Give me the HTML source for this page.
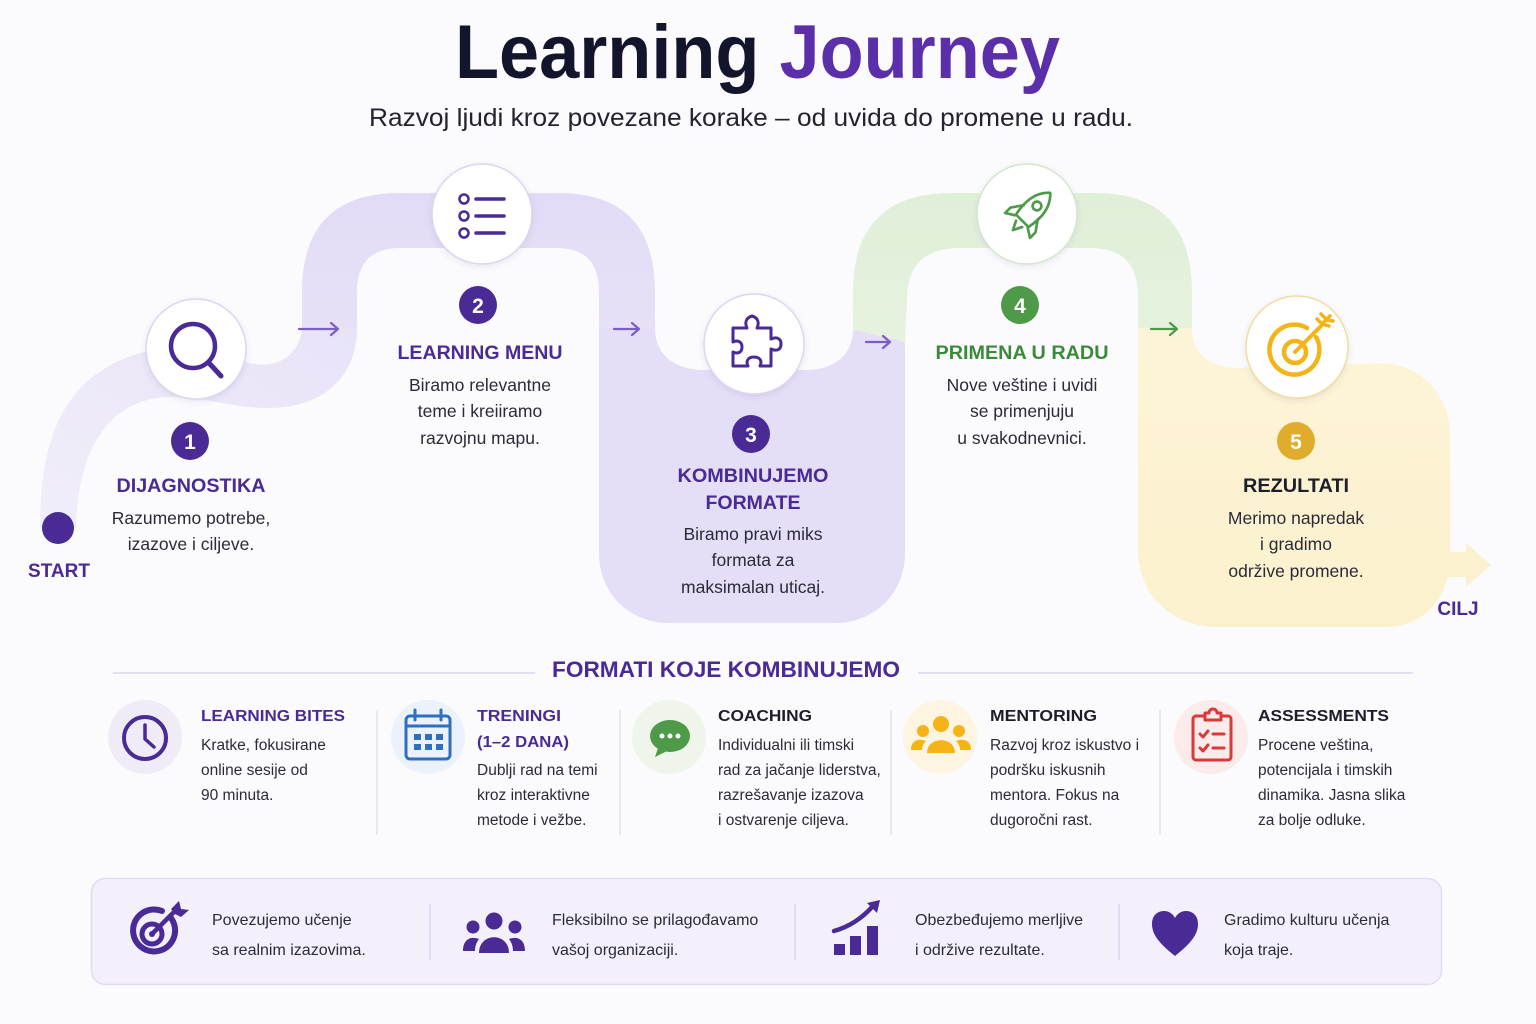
<!DOCTYPE html>
<html><head><meta charset="utf-8">
<style>
html,body{margin:0;padding:0;background:#fbfbfd;}
svg{display:block;}
text{font-family:"Liberation Sans",sans-serif;}
</style></head><body>
<svg width="1536" height="1024" viewBox="0 0 1536 1024" xmlns="http://www.w3.org/2000/svg">
<defs>
<linearGradient id="gS" x1="0" y1="1" x2="1" y2="0">
 <stop offset="0" stop-color="#f1eefa"/><stop offset="1" stop-color="#e8e3f7"/>
</linearGradient>
<linearGradient id="gA" x1="0" y1="0" x2="0" y2="1">
 <stop offset="0" stop-color="#e2dbf6"/><stop offset="1" stop-color="#e7e1f7"/>
</linearGradient>
<linearGradient id="gB" x1="0" y1="0" x2="0" y2="1">
 <stop offset="0" stop-color="#e0efd8"/><stop offset="1" stop-color="#e6f2df"/>
</linearGradient>
<linearGradient id="gY" x1="0" y1="0" x2="0" y2="1">
 <stop offset="0" stop-color="#fdf4d8"/><stop offset="1" stop-color="#fcf1cd"/>
</linearGradient>
<filter id="sh" x="-30%" y="-30%" width="160%" height="160%">
 <feDropShadow dx="0" dy="2" stdDeviation="3" flood-color="#5a4a90" flood-opacity="0.12"/>
</filter>
</defs>
<rect width="1536" height="1024" fill="#fbfbfd"/>

<!-- Title -->
<text x="455" y="78" font-size="76" font-weight="bold" textLength="605" lengthAdjust="spacingAndGlyphs"><tspan fill="#13152c">Learning </tspan><tspan fill="#5b2fa9">Journey</tspan></text>
<text x="369" y="126" font-size="25" fill="#22232f" textLength="764" lengthAdjust="spacingAndGlyphs">Razvoj ljudi kroz povezane korake – od uvida do promene u radu.</text>

<!-- Path bands -->
<path d="M 40,528 C 40,440 62,383 128,357 C 170,341 212,352 246,362 C 280,372 300,352 302,328 L 357,328 C 357,378 322,408 268,408 C 232,408 205,397 172,397 C 112,397 78,445 76,528 Z" fill="url(#gS)"/>
<path d="M 302,328 L 302,292 Q 302,193 400,193 L 558,193 Q 655,193 655,292 L 655,328 L 599,328 L 599,292 Q 599,248 557,248 L 400,248 Q 357,248 357,292 L 357,328 Z" fill="url(#gA)"/>
<path d="M 599,328 L 655,328 C 655,355 675,370 705,370 L 805,370 C 835,370 853,355 853,328 L 905,342 L 905,553 C 905,593 875,623 835,623 L 669,623 C 629,623 599,593 599,553 Z" fill="#e5def7"/>
<path d="M 853,330 L 853,292 Q 853,193 952,193 L 1095,193 Q 1192,193 1192,292 L 1192,328 L 1138,328 L 1138,296 Q 1138,248 1090,248 L 960,248 Q 907,248 907,300 L 905,342 Z" fill="url(#gB)"/>
<path d="M 1138,328 L 1192,328 C 1192,352 1208,368 1240,368 L 1380,363 C 1420,363 1450,395 1450,435 L 1450,557 C 1450,597 1425,627 1385,627 L 1218,627 C 1172,627 1138,595 1138,550 Z" fill="url(#gY)"/>
<path d="M 1440,552 L 1466,552 L 1466,543 L 1491,565 L 1466,587 L 1466,577 L 1440,577 Z" fill="#fcf1cf"/>

<!-- arrows on path -->
<g fill="none" stroke="#7c5dc7" stroke-width="2.2" stroke-linecap="round" stroke-linejoin="round">
 <path d="M 299,329 L 338,329 M 331,323 L 338,329 L 331,335"/>
 <path d="M 614,329 L 639,329 M 632,323 L 639,329 L 632,335"/>
 <path d="M 866,342 L 890,342 M 883,336 L 890,342 L 883,348"/>
</g>
<path d="M 1151,329 L 1177,329 M 1170,323 L 1177,329 L 1170,335" fill="none" stroke="#4d9a48" stroke-width="2.2" stroke-linecap="round" stroke-linejoin="round"/>

<!-- START dot -->
<circle cx="58" cy="528" r="16" fill="#4a2a95"/>
<text x="59" y="577" font-size="19" font-weight="bold" fill="#4a2a95" text-anchor="middle">START</text>
<text x="1458" y="615" font-size="19" font-weight="bold" fill="#4a2a95" text-anchor="middle">CILJ</text>

<!-- Circles -->
<g filter="url(#sh)">
 <circle cx="196" cy="349" r="50" fill="#fff" stroke="#dcd5f0" stroke-width="1.5"/>
 <circle cx="482" cy="214" r="50" fill="#fff" stroke="#dcd5f0" stroke-width="1.5"/>
 <circle cx="754" cy="344" r="50" fill="#fff" stroke="#dcd5f0" stroke-width="1.5"/>
 <circle cx="1027" cy="214" r="50" fill="#fff" stroke="#d3e6cb" stroke-width="1.5"/>
 <circle cx="1297" cy="347" r="51" fill="#fff" stroke="#f2dca0" stroke-width="1.5"/>
</g>

<!-- icon 1 magnifier -->
<g fill="none" stroke="#4a2a95" stroke-linecap="round">
 <circle cx="193" cy="346" r="22" stroke-width="4.5"/>
 <line x1="209" y1="363" x2="221" y2="376" stroke-width="5"/>
</g>
<!-- icon 2 list -->
<g fill="none" stroke="#4a2a95" stroke-linecap="round">
 <circle cx="464" cy="199" r="4.5" stroke-width="2.5"/>
 <circle cx="464" cy="216" r="4.5" stroke-width="2.5"/>
 <circle cx="464" cy="233" r="4.5" stroke-width="2.5"/>
 <line x1="476" y1="199" x2="504" y2="199" stroke-width="3.5"/>
 <line x1="476" y1="216" x2="504" y2="216" stroke-width="3.5"/>
 <line x1="476" y1="233" x2="504" y2="233" stroke-width="3.5"/>
</g>
<!-- icon 3 puzzle -->
<path d="M 733,328 L 747,328 C 745,324 745,318 752,316 C 759,318 759,324 757,328 L 771,328 L 771,339 C 775,337 781,337 781,344 C 781,351 775,351 771,349 L 771,366 L 760,366 C 762,362 761,357 754,357 C 747,357 746,362 748,366 L 733,366 L 733,352 C 737,354 742,353 742,347 C 742,341 737,340 733,342 Z" fill="none" stroke="#4a2a95" stroke-width="3" stroke-linejoin="round"/>
<!-- icon 4 rocket -->
<g transform="translate(1030,213) rotate(45) scale(1.1)" fill="none" stroke="#4d9a48" stroke-width="2.4" stroke-linejoin="round" stroke-linecap="round">
 <path d="M 0,-26 C 10,-17 11,-4 8,10 L -8,10 C -11,-4 -10,-17 0,-26 Z"/>
 <circle cx="0" cy="-9" r="4"/>
 <path d="M -9,-1 L -16,9 L -16,16 L -8,11"/>
 <path d="M 9,-1 L 16,9 L 16,16 L 8,11"/>
 <path d="M -4,14 L 0,22 L 4,14"/>
</g>
<!-- icon 5 target -->
<g fill="none" stroke="#f2b417" stroke-linecap="round" stroke-linejoin="round">
 <path d="M 1316,337 A 25 25 0 1 1 1307,328" stroke-width="4.5"/>
 <circle cx="1295" cy="352" r="11" stroke-width="4.5"/>
 <line x1="1295" y1="352" x2="1323" y2="324" stroke-width="4"/>
 <path d="M 1315,320 L 1321,326 L 1327,332" stroke-width="0"/>
 <path d="M 1317,319 L 1322,324 L 1329,326" stroke-width="3.5"/>
 <path d="M 1321,314 L 1327,320 L 1333,321" stroke-width="3.5"/>
 <line x1="1322" y1="324" x2="1330" y2="316" stroke-width="3.5"/>
</g>

<!-- Number badges -->
<circle cx="190" cy="441" r="19" fill="#4a2a95"/>
<text x="190" y="449" font-size="21" font-weight="bold" fill="#fff" text-anchor="middle">1</text>
<circle cx="478" cy="305" r="19" fill="#4a2a95"/>
<text x="478" y="313" font-size="21" font-weight="bold" fill="#fff" text-anchor="middle">2</text>
<circle cx="751" cy="434" r="19" fill="#4a2a95"/>
<text x="751" y="442" font-size="21" font-weight="bold" fill="#fff" text-anchor="middle">3</text>
<circle cx="1020" cy="305" r="19" fill="#4f9a49"/>
<text x="1020" y="313" font-size="21" font-weight="bold" fill="#fff" text-anchor="middle">4</text>
<circle cx="1296" cy="441" r="19" fill="#e0ac2c"/>
<text x="1296" y="449" font-size="21" font-weight="bold" fill="#fff" text-anchor="middle">5</text>

<!-- Step texts -->
<g text-anchor="middle" font-size="19" font-weight="bold">
 <text x="191" y="492" fill="#4a2a95" textLength="149" lengthAdjust="spacingAndGlyphs">DIJAGNOSTIKA</text>
 <text x="480" y="359" fill="#4a2a95" textLength="165" lengthAdjust="spacingAndGlyphs">LEARNING MENU</text>
 <text x="753" y="482" fill="#4a2a95" textLength="151" lengthAdjust="spacingAndGlyphs">KOMBINUJEMO</text>
 <text x="753" y="509" fill="#4a2a95" textLength="95" lengthAdjust="spacingAndGlyphs">FORMATE</text>
 <text x="1022" y="359" fill="#3b8a3a" textLength="173" lengthAdjust="spacingAndGlyphs">PRIMENA U RADU</text>
 <text x="1296" y="492" fill="#1d1d2b" textLength="106" lengthAdjust="spacingAndGlyphs">REZULTATI</text>
</g>
<g text-anchor="middle" font-size="17.5" fill="#2b2b38">
 <text x="191" y="524">Razumemo potrebe,</text>
 <text x="191" y="550">izazove i ciljeve.</text>
 <text x="480" y="391">Biramo relevantne</text>
 <text x="480" y="417">teme i kreiiramo</text>
 <text x="480" y="444">razvojnu mapu.</text>
 <text x="753" y="540">Biramo pravi miks</text>
 <text x="753" y="566">formata za</text>
 <text x="753" y="593">maksimalan uticaj.</text>
 <text x="1022" y="391">Nove veštine i uvidi</text>
 <text x="1022" y="417">se primenjuju</text>
 <text x="1022" y="444">u svakodnevnici.</text>
 <text x="1296" y="524">Merimo napredak</text>
 <text x="1296" y="550">i gradimo</text>
 <text x="1296" y="577">održive promene.</text>
</g>

<!-- Formats header -->
<line x1="113" y1="673" x2="535" y2="673" stroke="#e2def0" stroke-width="2"/>
<line x1="918" y1="673" x2="1413" y2="673" stroke="#e2def0" stroke-width="2"/>
<text x="552" y="677" font-size="22" font-weight="bold" fill="#4a2a95" textLength="348" lengthAdjust="spacingAndGlyphs">FORMATI KOJE KOMBINUJEMO</text>

<!-- dividers -->
<g stroke="#e4e0f0" stroke-width="1.5">
 <line x1="377" y1="710" x2="377" y2="835"/>
 <line x1="620" y1="710" x2="620" y2="835"/>
 <line x1="891" y1="710" x2="891" y2="835"/>
 <line x1="1160" y1="710" x2="1160" y2="835"/>
</g>

<!-- format icons -->
<circle cx="145" cy="737" r="37" fill="#efecf8"/>
<circle cx="145" cy="738" r="21" fill="none" stroke="#4a2a95" stroke-width="4"/>
<path d="M 145,725 L 145,739 L 154,747" fill="none" stroke="#4a2a95" stroke-width="3.5" stroke-linecap="round" stroke-linejoin="round"/>

<circle cx="428" cy="737" r="37" fill="#ebf2fb"/>
<g fill="none" stroke="#2f6fc0" stroke-width="3" stroke-linecap="round">
 <rect x="406" y="716" width="44" height="43" rx="4"/>
 <line x1="406" y1="726" x2="450" y2="726"/>
 <line x1="415" y1="710" x2="415" y2="720"/>
 <line x1="441" y1="710" x2="441" y2="720"/>
</g>
<g fill="#2f6fc0">
 <rect x="414" y="734" width="7" height="6"/><rect x="425" y="734" width="7" height="6"/><rect x="436" y="734" width="7" height="6"/>
 <rect x="414" y="744" width="7" height="6"/><rect x="425" y="744" width="7" height="6"/><rect x="436" y="744" width="7" height="6"/>
</g>

<circle cx="669" cy="737" r="37" fill="#f0f5ec"/>
<ellipse cx="670" cy="736" rx="20" ry="16" fill="#4d9a48"/>
<path d="M 659,745 L 655,757 L 669,750 Z" fill="#4d9a48"/>
<circle cx="662" cy="736" r="2.5" fill="#fff"/><circle cx="670" cy="736" r="2.5" fill="#fff"/><circle cx="678" cy="736" r="2.5" fill="#fff"/>

<circle cx="940" cy="737" r="37" fill="#fdf5e2"/>
<g fill="#f5b316">
 <circle cx="941" cy="724" r="8"/>
 <path d="M 927,753 C 927,736 955,736 955,753 Z"/>
 <circle cx="923" cy="731" r="6"/>
 <circle cx="959" cy="731" r="6"/>
 <path d="M 911,750 C 911,740 919,738 926,741 C 923,744 922,747 922,750 Z"/>
 <path d="M 971,750 C 971,740 963,738 956,741 C 959,744 960,747 960,750 Z"/>
</g>

<circle cx="1211" cy="737" r="37" fill="#fbebea"/>
<g fill="none" stroke="#d83a3a" stroke-width="3" stroke-linecap="round" stroke-linejoin="round">
 <rect x="1193" y="716" width="38" height="44" rx="3"/>
 <path d="M 1205,720 L 1205,713 L 1209,713 A 4 4 0 0 1 1217,713 L 1221,713 L 1221,720 Z" fill="#fbebea"/>
 <polyline points="1200,734 1203,737 1208,731"/>
 <line x1="1213" y1="734" x2="1224" y2="734"/>
 <polyline points="1200,748 1203,751 1208,745"/>
 <line x1="1213" y1="748" x2="1224" y2="748"/>
</g>

<!-- format titles -->
<g font-size="16" font-weight="bold">
 <text x="201" y="721" fill="#4a2a95" textLength="144" lengthAdjust="spacingAndGlyphs">LEARNING BITES</text>
 <text x="477" y="721" fill="#4a2a95" textLength="84" lengthAdjust="spacingAndGlyphs">TRENINGI</text>
 <text x="477" y="747" fill="#4a2a95" textLength="92" lengthAdjust="spacingAndGlyphs">(1–2 DANA)</text>
 <text x="718" y="721" fill="#1d1d2b" textLength="94" lengthAdjust="spacingAndGlyphs">COACHING</text>
 <text x="990" y="721" fill="#1d1d2b" textLength="107" lengthAdjust="spacingAndGlyphs">MENTORING</text>
 <text x="1258" y="721" fill="#1d1d2b" textLength="131" lengthAdjust="spacingAndGlyphs">ASSESSMENTS</text>
</g>
<g font-size="15.5" fill="#2b2b38">
 <text x="201" y="750">Kratke, fokusirane</text>
 <text x="201" y="775">online sesije od</text>
 <text x="201" y="800">90 minuta.</text>
 <text x="477" y="775">Dublji rad na temi</text>
 <text x="477" y="800">kroz interaktivne</text>
 <text x="477" y="825">metode i vežbe.</text>
 <text x="718" y="750">Individualni ili timski</text>
 <text x="718" y="775">rad za jačanje liderstva,</text>
 <text x="718" y="800">razrešavanje izazova</text>
 <text x="718" y="825">i ostvarenje ciljeva.</text>
 <text x="990" y="750">Razvoj kroz iskustvo i</text>
 <text x="990" y="775">podršku iskusnih</text>
 <text x="990" y="800">mentora. Fokus na</text>
 <text x="990" y="825">dugoročni rast.</text>
 <text x="1258" y="750">Procene veština,</text>
 <text x="1258" y="775">potencijala i timskih</text>
 <text x="1258" y="800">dinamika. Jasna slika</text>
 <text x="1258" y="825">za bolje odluke.</text>
</g>

<!-- Bottom bar -->
<rect x="91.5" y="878.5" width="1350" height="106" rx="14" fill="#f3f0fb" stroke="#e2dcf3" stroke-width="1.5"/>
<g stroke="#dcd6ee" stroke-width="1.5">
 <line x1="430" y1="904" x2="430" y2="960"/>
 <line x1="795" y1="904" x2="795" y2="960"/>
 <line x1="1119" y1="904" x2="1119" y2="960"/>
</g>
<!-- target -->
<g fill="none" stroke="#4a2a95" stroke-linecap="round">
 <path d="M 171,918 A 21 21 0 1 1 162,911" stroke-width="6"/>
 <circle cx="152" cy="934" r="10" stroke-width="5"/>
 <line x1="152" y1="934" x2="176" y2="910" stroke-width="4.5"/>
</g>
<circle cx="152" cy="934" r="3" fill="#4a2a95"/>
<path d="M 171,909 L 179,901 L 181,909 L 189,910 L 181,917 L 175,914 Z" fill="#4a2a95"/>
<!-- people -->
<g fill="#4a2a95">
 <circle cx="494" cy="921" r="8.5"/>
 <path d="M 479,953 C 479,932 509,932 509,953 Z"/>
 <circle cx="473" cy="927" r="6.5"/>
 <circle cx="515" cy="927" r="6.5"/>
 <path d="M 463,951 C 463,939 471,936 479,939 C 476,943 475,947 475,951 Z"/>
 <path d="M 525,951 C 525,939 517,936 509,939 C 512,943 513,947 513,951 Z"/>
</g>
<!-- chart -->
<g fill="#4a2a95">
 <rect x="834" y="944" width="11" height="11"/>
 <rect x="850" y="936" width="11" height="19"/>
 <rect x="867" y="926" width="11" height="29"/>
 <path d="M 867,903 L 880,900 L 877,913 Z"/>
</g>
<path d="M 834,931 Q 856,925 873,906" fill="none" stroke="#4a2a95" stroke-width="4.5" stroke-linecap="round"/>
<!-- heart -->
<path d="M 1175,956 C 1160,944 1152,935 1152,924 C 1152,915 1158,911 1164,911 C 1169,911 1173,914 1175,918 C 1177,914 1181,911 1186,911 C 1192,911 1198,915 1198,924 C 1198,935 1190,944 1175,956 Z" fill="#4a2a95"/>

<g font-size="16" fill="#2b2b38">
 <text x="212" y="925">Povezujemo učenje</text>
 <text x="212" y="955">sa realnim izazovima.</text>
 <text x="552" y="925">Fleksibilno se prilagođavamo</text>
 <text x="552" y="955">vašoj organizaciji.</text>
 <text x="915" y="925">Obezbeđujemo merljive</text>
 <text x="915" y="955">i održive rezultate.</text>
 <text x="1224" y="925">Gradimo kulturu učenja</text>
 <text x="1224" y="955">koja traje.</text>
</g>
</svg>
</body></html>
